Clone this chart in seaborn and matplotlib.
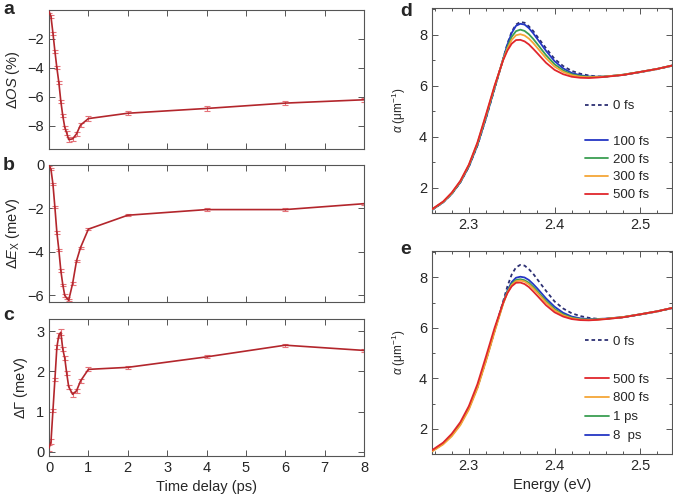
import numpy as np
import pandas as pd
import matplotlib
matplotlib.use('Agg')
import matplotlib.pyplot as plt
import seaborn as sns
from matplotlib.ticker import MultipleLocator
from matplotlib.lines import Line2D

# ---- time-resolved fit parameters (panels a-c) ----
delay_ps = [0, 0.05, 0.1, 0.15, 0.2, 0.25, 0.3, 0.35, 0.4, 0.45, 0.5, 0.6, 0.7, 0.8, 1, 2, 4, 6, 8]
os_change = [-0.1, -0.45, -1.6, -2.85, -4.0, -5.0, -6.3, -7.3, -8.1, -8.5, -8.95, -8.9, -8.55, -7.95, -7.5, -7.13, -6.8, -6.43, -6.2]
os_err = [0.12, 0.1, 0.1, 0.1, 0.1, 0.1, 0.1, 0.1, 0.12, 0.12, 0.15, 0.15, 0.12, 0.12, 0.15, 0.15, 0.15, 0.15, 0.15]
ex_shift = [0.0, -0.2, -0.88, -1.95, -3.1, -3.9, -4.85, -5.5, -6.0, -6.12, -6.22, -5.45, -4.4, -3.8, -2.95, -2.31, -2.05, -2.05, -1.78]
ex_err = [0.05] * len(delay_ps)
gamma_change = [0.1, 0.25, 1.03, 1.8, 2.6, 2.9, 2.97, 2.55, 2.33, 1.95, 1.62, 1.43, 1.52, 1.76, 2.05, 2.1, 2.36, 2.65, 2.52]
gamma_err = [0.07, 0.06, 0.04, 0.04, 0.05, 0.06, 0.07, 0.05, 0.05, 0.05, 0.05, 0.07, 0.05, 0.05, 0.05, 0.04, 0.04, 0.04, 0.04]

# ---- absorption spectra (panels d, e) ----
energy_ev = [2.257, 2.27, 2.28, 2.29, 2.30, 2.31, 2.32, 2.33, 2.34, 2.345, 2.35, 2.355, 2.36, 2.365,
             2.37, 2.375, 2.38, 2.39, 2.40, 2.41, 2.42, 2.43, 2.44, 2.45, 2.46, 2.48, 2.50, 2.52, 2.537]
alpha_0fs = [1.12, 1.42, 1.75, 2.20, 2.82, 3.65, 4.72, 5.88, 7.05, 7.65, 8.12, 8.40, 8.50, 8.47,
             8.33, 8.15, 7.92, 7.47, 7.05, 6.77, 6.58, 6.47, 6.40, 6.36, 6.36, 6.42, 6.53, 6.65, 6.78]
alpha_100fs = [1.12, 1.42, 1.75, 2.20, 2.82, 3.66, 4.73, 5.90, 7.05, 7.62, 8.07, 8.35, 8.43, 8.40,
               8.26, 8.06, 7.83, 7.37, 6.96, 6.68, 6.50, 6.41, 6.36, 6.35, 6.36, 6.43, 6.54, 6.66, 6.79]
alpha_200fs = [1.13, 1.43, 1.76, 2.22, 2.85, 3.70, 4.78, 5.93, 7.03, 7.52, 7.92, 8.14, 8.20, 8.15,
               8.02, 7.84, 7.63, 7.20, 6.84, 6.60, 6.45, 6.38, 6.35, 6.35, 6.36, 6.43, 6.54, 6.66, 6.79]
alpha_300fs = [1.14, 1.44, 1.78, 2.24, 2.88, 3.74, 4.83, 5.97, 7.02, 7.45, 7.80, 7.98, 8.02, 7.97,
               7.85, 7.68, 7.48, 7.08, 6.75, 6.54, 6.41, 6.35, 6.33, 6.34, 6.36, 6.43, 6.54, 6.66, 6.79]
alpha_500fs = [1.15, 1.45, 1.80, 2.26, 2.90, 3.77, 4.87, 6.00, 7.00, 7.38, 7.65, 7.79, 7.80, 7.74,
               7.62, 7.45, 7.27, 6.90, 6.62, 6.45, 6.35, 6.31, 6.30, 6.32, 6.35, 6.42, 6.54, 6.66, 6.79]
alpha_800fs = [1.10, 1.38, 1.70, 2.14, 2.76, 3.60, 4.68, 5.84, 6.95, 7.40, 7.70, 7.85, 7.88, 7.84,
               7.73, 7.57, 7.39, 7.01, 6.70, 6.50, 6.38, 6.33, 6.32, 6.33, 6.36, 6.43, 6.54, 6.66, 6.79]
alpha_1ps = [1.12, 1.41, 1.74, 2.19, 2.82, 3.66, 4.74, 5.90, 6.98, 7.44, 7.75, 7.90, 7.93, 7.89,
             7.79, 7.63, 7.45, 7.07, 6.75, 6.54, 6.41, 6.35, 6.33, 6.34, 6.36, 6.43, 6.54, 6.66, 6.79]
alpha_8ps = [1.12, 1.41, 1.74, 2.19, 2.82, 3.66, 4.74, 5.90, 7.00, 7.48, 7.82, 7.99, 8.03, 8.00,
             7.90, 7.74, 7.56, 7.17, 6.84, 6.60, 6.45, 6.38, 6.35, 6.35, 6.37, 6.43, 6.54, 6.66, 6.79]

sns.set_style("ticks")
plt.rcParams['font.family'] = ['Liberation Sans', 'DejaVu Sans']
plt.rcParams['mathtext.fontset'] = 'custom'
plt.rcParams['mathtext.rm'] = 'Liberation Sans'
plt.rcParams['mathtext.it'] = 'Liberation Sans:italic'
plt.rcParams['axes.unicode_minus'] = True

LINE_RED = '#b3262c'
ERR_RED = '#e5737a'
FRAME = '#555555'

fig = plt.figure(figsize=(6.73, 4.99), dpi=100)

def style_axes(ax):
    for sp in ax.spines.values():
        sp.set_color(FRAME)
        sp.set_linewidth(0.8)
    ax.tick_params(which='both', direction='in', top=True, right=True,
                   color=FRAME, labelsize=10.5, width=0.7)
    ax.tick_params(which='major', length=4)
    ax.tick_params(which='minor', length=2.5)

# left column
left_x, left_w = 49 / 673, 315 / 673
ax_a = fig.add_axes([left_x, 1 - 149 / 499, left_w, 139 / 499])
ax_b = fig.add_axes([left_x, 1 - 302 / 499, left_w, 137 / 499])
ax_c = fig.add_axes([left_x, 1 - 456 / 499, left_w, 137 / 499])

series = [(ax_a, os_change, os_err, r'$\Delta\mathit{OS}$ (%)', (-9.6, 0), [-8, -6, -4, -2]),
          (ax_b, ex_shift, ex_err, r'$\Delta\mathit{E}_{\mathrm{X}}$ (meV)', (-6.3, 0), [-6, -4, -2, 0]),
          (ax_c, gamma_change, gamma_err, r'$\Delta\mathit{\Gamma}$ (meV)', (-0.1, 3.3), [0, 1, 2, 3])]

for ax, vals, errs, label, ylim, yt in series:
    df = pd.DataFrame({'delay': delay_ps, 'value': vals, 'err': errs})
    ax.errorbar(df['delay'], df['value'], yerr=df['err'], fmt='none',
                ecolor=ERR_RED, elinewidth=0.8, capsize=2.2, capthick=0.8, zorder=2)
    sns.lineplot(data=df, x='delay', y='value', ax=ax, color=LINE_RED, lw=1.2,
                 estimator=None, sort=False, zorder=3)
    ax.set_xlim(0, 8)
    ax.set_ylim(*ylim)
    ax.set_yticks(yt)
    ax.set_xticks(range(0, 9))
    ax.set_ylabel(label, fontsize=10.5, labelpad=4)
    ax.set_xlabel('')
    style_axes(ax)

ax_a.tick_params(labelbottom=False)
ax_b.tick_params(labelbottom=False)
ax_c.set_xlabel('Time delay (ps)', fontsize=10.5)

# right column
right_x, right_w = 432 / 673, 240 / 673
ax_d = fig.add_axes([right_x, 1 - 213 / 499, right_w, 205 / 499])
ax_e = fig.add_axes([right_x, 1 - 454 / 499, right_w, 203 / 499])

navy = '#2c2f73'
blue = '#2436c4'
green = '#3a9e52'
orange = '#f5a637'
red = '#e0262c'

d_curves = [(alpha_100fs, blue, '100 fs'), (alpha_200fs, green, '200 fs'),
            (alpha_300fs, orange, '300 fs'), (alpha_500fs, red, '500 fs')]
e_curves = [(alpha_8ps, blue, '8  ps'), (alpha_1ps, green, '1 ps'),
            (alpha_800fs, orange, '800 fs'), (alpha_500fs, red, '500 fs')]
e_order = ['500 fs', '800 fs', '1 ps', '8  ps']

for ax, curves, order, spacing in [(ax_d, d_curves, [c[2] for c in d_curves], 0.42),
                                   (ax_e, e_curves, e_order, 0.5)]:
    sns.lineplot(x=energy_ev, y=alpha_0fs, ax=ax, color=navy, lw=1.3,
                 linestyle=(0, (2, 1.6)), estimator=None, sort=False, zorder=2)
    handles = {}
    for vals, col, lab in curves:
        sns.lineplot(x=energy_ev, y=vals, ax=ax, color=col, lw=1.3,
                     estimator=None, sort=False, zorder=3)
        handles[lab] = Line2D([], [], color=col, lw=1.3)
    leg_h = [Line2D([], [], color=navy, lw=1.3, linestyle=(0, (2, 1.6))),
             Line2D([], [], color='none')] + [handles[k] for k in order]
    leg_l = ['0 fs', ''] + order
    ax.legend(leg_h, leg_l, frameon=False, loc='lower right', bbox_to_anchor=(0.955, 0.0),
              fontsize=9.5, handlelength=1.75, handletextpad=0.35, labelspacing=spacing)
    ax.set_xlim(2.257, 2.537)
    ax.set_ylim(1.0, 9.05)
    ax.xaxis.set_major_locator(MultipleLocator(0.1))
    ax.xaxis.set_minor_locator(MultipleLocator(0.02))
    ax.yaxis.set_major_locator(MultipleLocator(2))
    ax.yaxis.set_minor_locator(MultipleLocator(1))
    ax.set_ylabel(r'$\alpha$ ($\mathrm{\mu m^{-1}}$)', fontsize=8.5, labelpad=8)
    ax.set_xlabel('')
    style_axes(ax)

ax_d.tick_params(labelbottom=True)
ax_e.set_xlabel('Energy (eV)', fontsize=10.5)

# panel letters
for txt, x, y in [('a', 3, 10), ('b', 3, 166), ('c', 3, 316), ('d', 400, 12), ('e', 400, 250)]:
    fig.text(x / 673, 1 - y / 499, txt, fontsize=14, fontweight='bold', va='center', ha='left')

fig.savefig('out.png', dpi=100)
